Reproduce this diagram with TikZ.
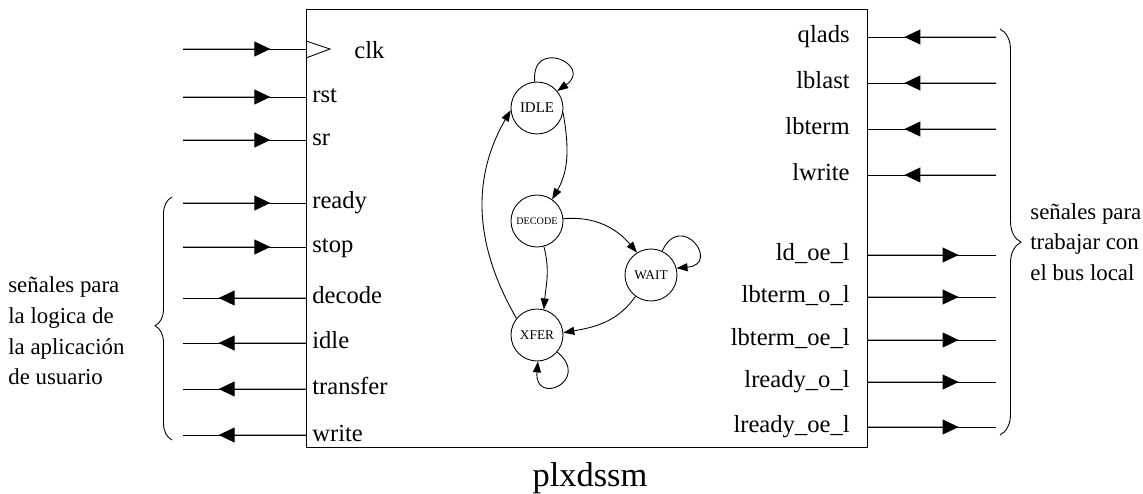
\documentclass[tikz,border=0pt]{standalone}
\usepackage{fontspec}
\setmainfont{Liberation Serif}
\usetikzlibrary{arrows.meta,calc,decorations.pathreplacing}

\newcommand{\sigfont}{\fontsize{14}{17.5}\selectfont}
\newcommand{\notefont}{\fontsize{13}{17.5}\selectfont}

\begin{document}
\begin{tikzpicture}[
  blk/.style={draw, line width=0.6pt, anchor=north west, minimum width=11.22cm, minimum height=8.76cm, inner sep=0},
  wire/.style={line width=0.5pt},
  sig/.style={-{Triangle[length=3.2mm, width=3.0mm]}, line width=0.5pt},
  pinl/.style={anchor=base west, font=\sigfont, inner sep=0},
  pinr/.style={anchor=base east, font=\sigfont, inner sep=0},
  state/.style={circle, draw, line width=0.5pt, minimum size=1.04cm, inner sep=0},
  trans/.style={-{Triangle[length=2.2mm, width=1.6mm]}, line width=0.5pt},
  grp/.style={decorate, line width=0.5pt},
  note/.style={font=\notefont, align=left, anchor=west, inner sep=0},
]
\useasboundingbox (0,0) rectangle (22.86,-9.88);

% === Block ===
\node[blk] (plx) at (6.12,-0.18) {};
\node[font=\fontsize{19.6}{24}\selectfont, anchor=base] (title) at (11.8,-9.72) {plxdssm};

% === Clock pin ===
\coordinate (clk-pin) at (6.12,-0.98);
\coordinate (clk-ext) at (3.66,-0.98);
\draw[wire] (clk-ext) -- (clk-pin);
\draw[sig] (clk-ext) -- ($(clk-ext)!0.71!(clk-pin)$);
\draw[wire] ($(clk-pin)+(0,0.16)$) -- ++(0.48,-0.16) -- ($(clk-pin)+(0,-0.18)$);
\node[pinl] (clk) at (7.08,-1.18) {clk};

% === Left side: inputs ===
\foreach \txt/\y [count=\i] in {rst/1.94, sr/2.80, ready/4.06, stop/4.94} {
  \coordinate (li\i-pin) at (6.12,-\y);
  \coordinate (li\i-ext) at (3.66,-\y);
  \draw[wire] (li\i-ext) -- (li\i-pin);
  \draw[sig] (li\i-ext) -- ($(li\i-ext)!0.71!(li\i-pin)$);
  \node[pinl] (li\i) at ($(li\i-pin)+(0.12,-0.12)$) {\txt};
}

% === Left side: outputs ===
\foreach \txt/\y [count=\i] in {decode/5.96, idle/6.86, transfer/7.78, write/8.70} {
  \coordinate (lo\i-pin) at (6.12,-\y);
  \coordinate (lo\i-ext) at (3.66,-\y);
  \draw[wire] (lo\i-pin) -- (lo\i-ext);
  \draw[sig] (lo\i-pin) -- ($(lo\i-pin)!0.71!(lo\i-ext)$);
  \node[pinl] (lo\i) at ($(lo\i-pin)+(0.12,-0.12)$) {\txt};
}

% === Right side: inputs ===
\foreach \txt/\y [count=\i] in {qlads/0.74, lblast/1.66, lbterm/2.58, lwrite/3.50} {
  \coordinate (ri\i-pin) at (17.34,-\y);
  \coordinate (ri\i-ext) at (19.92,-\y);
  \draw[wire] (ri\i-ext) -- (ri\i-pin);
  \draw[sig] (ri\i-ext) -- ($(ri\i-ext)!0.71!(ri\i-pin)$);
  \node[pinr] (ri\i) at ($(ri\i-pin)+(-0.34,-0.12)$) {\txt};
}

% === Right side: outputs ===
\foreach \txt/\y [count=\i] in {ld\_oe\_l/5.10, lbterm\_o\_l/5.94, lbterm\_oe\_l/6.80, lready\_o\_l/7.64, lready\_oe\_l/8.54} {
  \coordinate (ro\i-pin) at (17.34,-\y);
  \coordinate (ro\i-ext) at (19.92,-\y);
  \draw[wire] (ro\i-pin) -- (ro\i-ext);
  \draw[sig] (ro\i-pin) -- ($(ro\i-pin)!0.71!(ro\i-ext)$);
  \node[pinr] (ro\i) at ($(ro\i-pin)+(-0.34,-0.12)$) {\txt};
}

% === Groups ===
\draw[grp, decoration={brace, amplitude=0.34cm, aspect=0.47}] (3.44,-8.80) -- (3.44,-3.94);
\node[note] (usrnote) at (0.16,-6.62) {señales para\\la logica de\\la aplicación\\de usuario};
\draw[grp, decoration={brace, amplitude=0.42cm, aspect=0.525}] (20.0,-0.58) -- (20.0,-8.70);
\node[note] (busnote) at (20.6,-4.84) {señales para\\trabajar con\\el bus local};

% === State machine ===
\node[state, font=\fontsize{8.5}{10}\selectfont] (idle) at (10.74,-2.16) {IDLE};
\node[state, font=\fontsize{5.8}{7}\selectfont] (decode) at (10.74,-4.42) {DECODE};
\node[state, font=\fontsize{7.6}{9}\selectfont] (wait) at (13.02,-5.50) {WAIT};
\node[state, font=\fontsize{7.6}{9}\selectfont] (xfer) at (10.74,-6.70) {XFER};

\draw[trans] (idle.-10) to[out=-80, in=60] (decode.55);
\draw[trans] (decode.5) to[out=5, in=130] (wait.122);
\draw[trans] (decode.-75) to[out=-75, in=85] (xfer.75);
\draw[trans] (wait.-126) to[out=-125, in=10] (xfer.5);
\draw[trans] (xfer.141) to[out=120, in=240] (idle.185);

% self loops
\draw[trans] (idle.95) to[out=95, in=35, min distance=0.9cm] (idle.40);
\draw[trans] (wait.65) to[out=65, in=5, min distance=0.9cm] (wait.15);
\draw[trans] (xfer.-40) to[out=-40, in=-95, min distance=0.9cm] (xfer.-88);

\end{tikzpicture}
\end{document}
